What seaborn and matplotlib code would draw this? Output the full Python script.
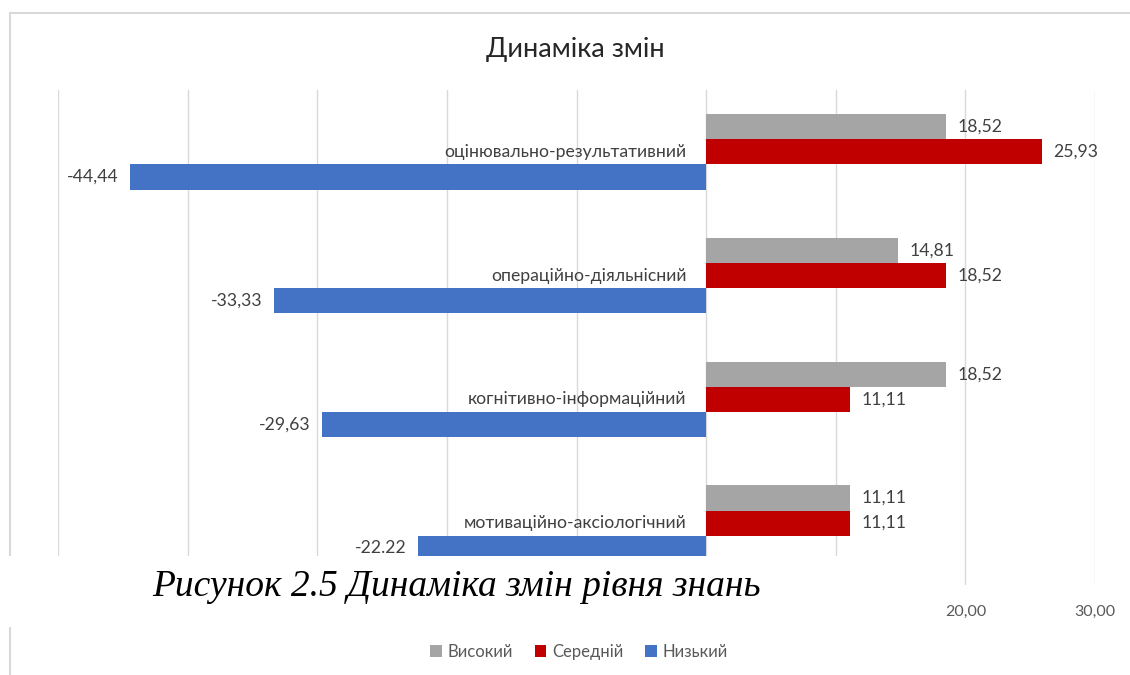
import matplotlib
matplotlib.use("Agg")
import matplotlib.pyplot as plt
import seaborn as sns
import pandas as pd
from matplotlib.patches import Rectangle

# Components, top to bottom
categories = [
    "оцінювально-результативний",
    "операційно-діяльнісний",
    "когнітивно-інформаційний",
    "мотиваційно-аксіологічний",
]
levels = ["Високий", "Середній", "Низький"]

# Change per level, as printed on the bars
high_labels = ["18,52", "14,81", "18,52", "11,11"]
mid_labels = ["25,93", "18,52", "11,11", "11,11"]
low_labels = ["-44,44", "-33,33", "-29,63", "-22.22"]

colors = ["#A5A5A5", "#C00000", "#4472C4"]
x_ticks = [-50, -40, -30, -20, -10, 0, 10, 20, 30]
x_tick_labels = ["", "", "", "", "", "", "", "20,00", "30,00"]

title = "Динаміка змін"
caption = "Рисунок 2.5 Динаміка змін рівня знань"


def to_num(s):
    return float(s.replace(",", "."))


series_labels = [high_labels, mid_labels, low_labels]
rows = []
for lvl, labs in zip(levels, series_labels):
    for cat, lab in zip(categories, labs):
        rows.append({"category": cat, "level": lvl, "value": to_num(lab)})
df = pd.DataFrame(rows)

sns.set_theme(style="white")
plt.rcParams["font.family"] = ["Lato", "DejaVu Sans"]

W, H = 1130, 675
fig = plt.figure(figsize=(W / 100, H / 100), dpi=100)
fig.patch.set_facecolor("white")

ax = fig.add_axes([58 / W, 1 - 585 / H, (1095 - 58) / W, (585 - 90) / H])
sns.barplot(
    data=df, x="value", y="category", hue="level", hue_order=levels,
    order=categories, palette=colors, orient="h", width=0.61, gap=0,
    saturation=1, errorbar=None, linewidth=0, ax=ax,
)

ax.set_xlim(-50, 30)
ax.set_xticks(x_ticks)
ax.set_xticklabels(x_tick_labels)
ax.xaxis.grid(True, color="#d9d9d9", linewidth=1)
ax.set_axisbelow(True)
for sp in ax.spines.values():
    sp.set_visible(False)
ax.set_yticks([])
ax.set_xlabel("")
ax.set_ylabel("")
ax.tick_params(axis="x", length=0, pad=14, labelsize=11.5, labelcolor="#595959")

# Category names sit just left of the zero line
for i, cat in enumerate(categories):
    ax.annotate(cat, xy=(0, i), xytext=(-14, 0), textcoords="offset points",
                ha="right", va="center", fontsize=12.7, color="#404040")

# Value labels at the bar ends
for cont, labs in zip(ax.containers, series_labels):
    ax.bar_label(cont, labels=labs, padding=8, fontsize=12.7, color="#404040")

handles, labels = ax.get_legend_handles_labels()
if ax.get_legend() is not None:
    ax.get_legend().remove()
fig.legend(handles, labels, loc="center", bbox_to_anchor=(579 / W, 1 - 652 / H),
           ncol=3, frameon=False, handlelength=0.7, handleheight=0.7,
           handletextpad=0.35, columnspacing=1.3, fontsize=12,
           labelcolor="#595959")

fig.text(575 / W, 1 - 50 / H, title, ha="center", va="center",
         fontsize=19.5, color="#262626")

# Chart frame
fig.patches.append(Rectangle((10 / W, -0.05), 1.1, 1 - 13 / H + 0.05,
                             transform=fig.transFigure, facecolor="none",
                             edgecolor="#d9d9d9", linewidth=1.5, zorder=1))

# Caption block laid over the lower part of the chart
fig.patches.append(Rectangle((0, 1 - 627 / H), 930 / W, (627 - 556) / H,
                             transform=fig.transFigure, facecolor="white",
                             edgecolor="none", zorder=5))
fig.text(152 / W, 1 - 596 / H, caption, family="Liberation Serif",
         style="italic", fontsize=27, va="baseline", ha="left",
         color="black", zorder=6)

fig.savefig("out.png", dpi=100, facecolor="white")
